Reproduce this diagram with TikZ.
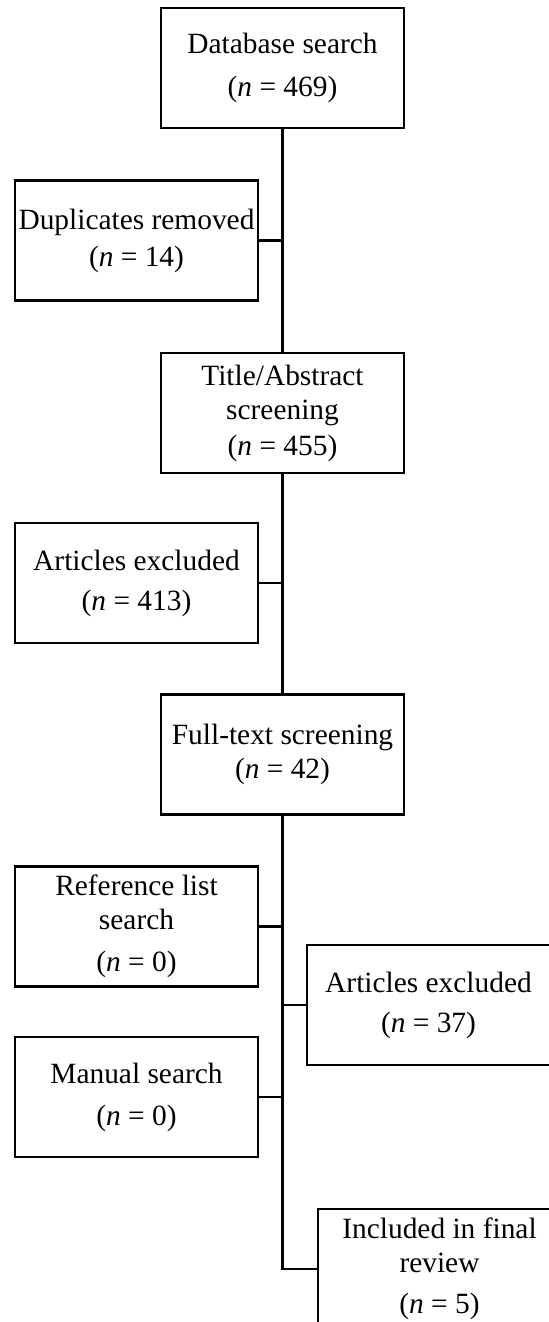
\documentclass[tikz,border=0pt]{standalone}
\usepackage{fontspec}
\setmainfont{Liberation Serif}
\usepackage{tikz}
\usetikzlibrary{positioning, calc}

\begin{document}
\begin{tikzpicture}[
    x=0.5pt, y=-0.5pt,
    stagebox/.style={draw, line width=1.3pt, align=center, inner sep=0pt, minimum width=121.5pt, minimum height=60pt, font=\fontsize{14.7}{17}\selectfont, execute at begin node={\rule{0pt}{14pt}}},
    link/.style={line width=1.3pt},
]
    \useasboundingbox (0,0) rectangle (548,1322);

    % Identification
    \node[stagebox] (search) at (282.5, 68) {Database search\\[4.5pt](\textit{n} = 469)};
    \node[stagebox] (dupl) at (136.5, 240.5) {Duplicates removed\\[1.5pt](\textit{n} = 14)};

    % Screening
    \node[stagebox] (title) at (282.5, 413) {Title/Abstract\\screening\\[1pt](\textit{n} = 455)};
    \node[stagebox] (excla) at (136.5, 583) {Articles excluded\\[3pt](\textit{n} = 413)};

    % Eligibility
    \node[stagebox] (full) at (282.5, 754.5) {Full-text screening\\(\textit{n} = 42)};
    \node[stagebox] (reflist) at (136.5, 926.5) {Reference list\\search\\[4pt](\textit{n} = 0)};
    \node[stagebox] (manual) at (136.5, 1097) {Manual search\\[4pt](\textit{n} = 0)};
    \node[stagebox] (exclb) at (428.5, 1005) {Articles excluded\\[3pt](\textit{n} = 37)};

    % Included
    \node[stagebox] (incl) at (439.5, 1269) {Included in final\\review\\[3.5pt](\textit{n} = 5)};

    % Links
    \draw[link] (search.south) -- (title.north);
    \draw[link] (dupl.east) -- (dupl.east -| search.south);
    \draw[link] (title.south) -- (full.north);
    \draw[link] (excla.east) -- (excla.east -| title.south);
    \draw[link] (full.south) |- (incl.west);
    \draw[link] (reflist.east) -- (reflist.east -| full.south);
    \draw[link] (manual.east) -- (manual.east -| full.south);
    \draw[link] (exclb.west) -- (exclb.west -| full.south);
\end{tikzpicture}
\end{document}
